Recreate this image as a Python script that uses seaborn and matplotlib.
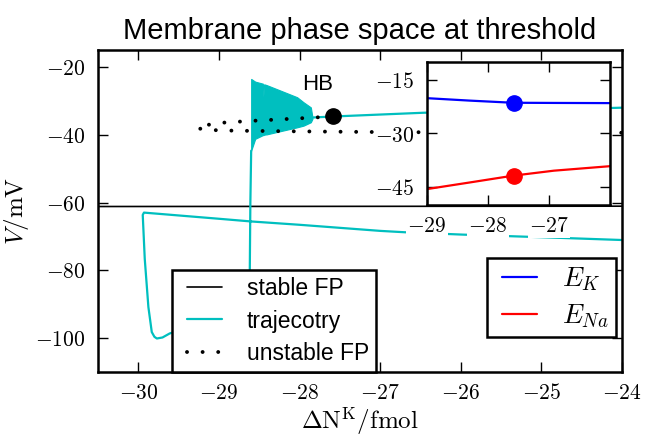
import numpy as np
import pandas as pd
import matplotlib
matplotlib.use('Agg')
import matplotlib.pyplot as plt
from matplotlib.ticker import FuncFormatter, FixedLocator
from matplotlib.lines import Line2D
from matplotlib.legend_handler import HandlerLine2D
import seaborn as sns

# ---------------- data ----------------
stable_dn = [-30.5, -24.0]
stable_v = [-61.1, -61.0]

unst_up_dn = [-29.27, -29.19, -29.0, -28.6, -28.2, -27.58]
unst_up_v = [-38.0, -37.2, -36.4, -35.8, -35.3, -34.5]
unst_lo_dn = [-29.27, -29.1, -28.8, -28.0, -27.0, -26.0, -25.0, -24.0]
unst_lo_v = [-38.0, -38.5, -38.7, -38.9, -39.1, -39.2, -39.3, -39.3]

traj_dn = [-24.0, -24.97, -25.98, -26.7, -27.0, -28.0, -28.61, -29.01, -29.93, -29.945,
           -29.92, -29.875, -29.833, -29.80, -29.77, -29.70, -29.61, -29.2, -28.85, -28.66,
           -28.62, -28.61, -28.60]
traj_v = [-71.0, -70.2, -69.4, -68.7, -68.3, -66.5, -65.5, -64.7, -62.9, -63.6,
          -76.6, -90.8, -98.2, -99.6, -100.1, -99.8, -98.6, -95.8, -93.0, -91.0,
          -88.0, -60.0, -44.6]

osc_dn = [-28.60, -28.55, -28.455, -28.448, -28.44, -28.42, -28.415, -28.41,
          -28.23, -28.03, -27.95, -27.86, -27.84]
osc_hi = [-23.4, -24.2, -24.8, -28.6, -25.0, -25.1, -27.5, -25.2,
          -26.9, -28.8, -30.3, -31.8, -34.7]
osc_lo = [-44.6, -41.1, -40.0, -40.0, -39.9, -39.8, -39.8, -39.8,
          -38.8, -37.7, -37.2, -36.2, -35.2]

tail_dn = [-27.84, -27.58, -26.47, -25.0, -24.0]
tail_v = [-34.8, -34.5, -33.4, -32.5, -31.9]

hb_dn = [-27.58]
hb_v = [-34.5]

ek_dn = [-29.02, -28.3, -27.59, -26.92, -25.97]
ek_v = [-20.1, -20.8, -21.4, -21.45, -21.5]
ena_dn = [-29.02, -28.3, -27.59, -26.92, -25.97]
ena_v = [-45.6, -43.7, -41.8, -40.4, -39.1]
hb_ek = [-21.4]
hb_ena = [-41.8]

main_xticks = [-30, -29, -28, -27, -26, -25, -24]
main_yticks = [-100, -80, -60, -40, -20]
in_xticks = [-29, -28, -27]
in_yticks = [-45, -30, -15]

# ---------------- style ----------------
sns.set_theme(style='white')
plt.rcParams.update({
    'font.family': ['Liberation Sans', 'DejaVu Sans'],
    'mathtext.fontset': 'cm',
    'text.color': 'black',
    'axes.labelcolor': 'black',
    'axes.edgecolor': 'black',
    'axes.linewidth': 1.8,
    'axes.facecolor': 'white',
    'xtick.direction': 'in', 'ytick.direction': 'in',
    'xtick.top': True, 'ytick.right': True,
    'xtick.bottom': True, 'ytick.left': True,
    'xtick.major.size': 7, 'ytick.major.size': 7,
    'xtick.major.width': 1.0, 'ytick.major.width': 1.0,
    'xtick.color': 'black', 'ytick.color': 'black',
    'xtick.labelsize': 15.5, 'ytick.labelsize': 15.5,
    'xtick.major.pad': 8, 'ytick.major.pad': 9,
    'axes.unicode_minus': True,
})

TEAL = '#00bfbf'
DOT = (0, (0.01, 4.0))
fmt = FuncFormatter(lambda v, p: r'$%d$' % v)

fig = plt.figure(figsize=(6.46, 4.36), dpi=100)
ax = fig.add_axes([98 / 646, 1 - 372 / 436, (622 - 98) / 646, (372 - 50.5) / 436])

sns.lineplot(x=stable_dn, y=stable_v, ax=ax, color='black', lw=1.2, sort=False, estimator=None)
sns.lineplot(x=traj_dn, y=traj_v, ax=ax, color=TEAL, lw=1.6, sort=False, estimator=None)
ax.fill_between(osc_dn, osc_lo, osc_hi, color=TEAL, lw=0.8, edgecolor=TEAL)
sns.lineplot(x=tail_dn, y=tail_v, ax=ax, color=TEAL, lw=1.6, sort=False, estimator=None)
unst_dn = unst_up_dn[::-1] + unst_lo_dn[1:]
unst_v = unst_up_v[::-1] + unst_lo_v[1:]
sns.lineplot(x=unst_dn, y=unst_v, ax=ax, color='black', lw=2.8, sort=False, estimator=None,
             linestyle=DOT, dash_capstyle='round')
ax.plot(hb_dn, hb_v, 'o', color='black', ms=11, zorder=5)
ax.text(-27.78, -25.1, 'HB', fontsize=16, ha='center', va='center')

ax.set_xlim(-30.5, -24)
ax.set_ylim(-110, -15)
ax.xaxis.set_major_locator(FixedLocator(main_xticks))
ax.yaxis.set_major_locator(FixedLocator(main_yticks))
ax.xaxis.set_major_formatter(fmt)
ax.yaxis.set_major_formatter(fmt)
ax.set_xlabel(r'$\Delta\mathrm{N^K}/\mathrm{fmol}$', fontsize=18, labelpad=1)
ax.set_ylabel(r'$V/\mathrm{mV}$', fontsize=18, labelpad=3)
ax.set_title('Membrane phase space at threshold', fontsize=21, pad=8)
for s in ax.spines.values():
    s.set_linewidth(1.8)
    s.set_color('black')

hmap = {Line2D: HandlerLine2D(xpad=0.35)}
handles = [Line2D([], [], color='black', lw=1.2),
           Line2D([], [], color=TEAL, lw=1.6),
           Line2D([], [], color='black', lw=2.8, linestyle=DOT, dash_capstyle='round')]
leg = ax.legend(handles, ['stable FP', 'trajecotry', 'unstable FP'], loc='lower left',
                bbox_to_anchor=(0.141, 0.0), borderaxespad=0, fontsize=16.5,
                fancybox=False, framealpha=1, edgecolor='black', handlelength=1.88,
                handletextpad=1.1, borderpad=0.3, labelspacing=0.42, handler_map=hmap)
leg.get_frame().set_linewidth(1.8)

# ---------------- inset ----------------
axi = fig.add_axes([427 / 646, 1 - 205 / 436, 183 / 646, 143 / 436])
sns.lineplot(x=ek_dn, y=ek_v, ax=axi, color='blue', lw=1.6, sort=False, estimator=None)
sns.lineplot(x=ena_dn, y=ena_v, ax=axi, color='red', lw=1.6, sort=False, estimator=None)
axi.plot(hb_dn, hb_ek, 'o', color='blue', ms=11)
axi.plot(hb_dn, hb_ena, 'o', color='red', ms=11)
axi.set_xlim(-29, -26)
axi.set_ylim(-50, -10)
axi.xaxis.set_major_locator(FixedLocator(in_xticks))
axi.yaxis.set_major_locator(FixedLocator(in_yticks))
axi.xaxis.set_major_formatter(fmt)
axi.yaxis.set_major_formatter(fmt)
axi.set_xlabel('')
axi.set_ylabel('')
for s in axi.spines.values():
    s.set_linewidth(1.8)
    s.set_color('black')
for t in axi.xaxis.get_major_ticks() + axi.yaxis.get_major_ticks():
    t.label1.set_bbox(dict(facecolor='white', edgecolor='none', pad=1))

hmap2 = {Line2D: HandlerLine2D(xpad=0.3)}
h2 = [Line2D([], [], color='blue', lw=1.6), Line2D([], [], color='red', lw=1.6)]
leg2 = axi.legend(h2, [r'$E_K$', r'$E_{Na}$'], loc='lower right',
                  bbox_to_anchor=(0.9885, 0.109), bbox_transform=ax.transAxes,
                  borderaxespad=0, fontsize=19.5, fancybox=False, framealpha=1,
                  edgecolor='black', handlelength=1.59, handletextpad=0.93,
                  borderpad=0.26, labelspacing=0.35, handler_map=hmap2)
leg2.get_frame().set_linewidth(1.8)

fig.savefig('out.png', dpi=100)
